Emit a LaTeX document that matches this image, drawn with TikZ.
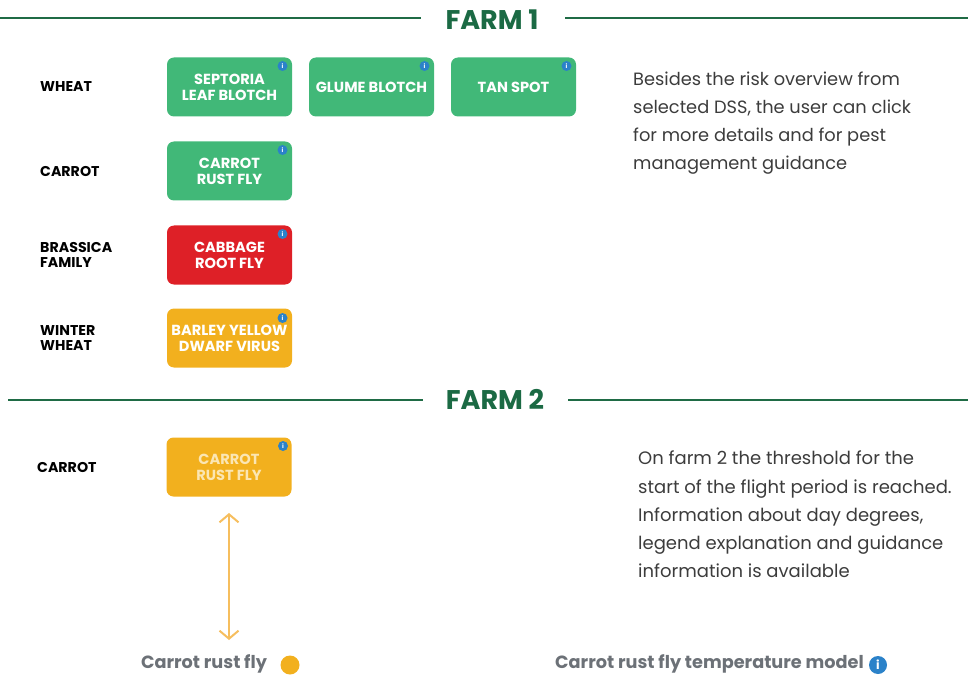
\documentclass[tikz,border=0pt]{standalone}
\usepackage{fontspec}
\setmainfont{Poppins}
\definecolor{rulegreen}{HTML}{1F6B45}
\definecolor{headgreen}{HTML}{1B6A44}
\definecolor{riskgreen}{HTML}{41B878}
\definecolor{riskred}{HTML}{DE2027}
\definecolor{riskamber}{HTML}{F2B01E}
\definecolor{paletext}{HTML}{FBE6B4}
\definecolor{infoblue}{HTML}{2B82C9}
\definecolor{bodygrey}{HTML}{3C3C3C}
\definecolor{labelgrey}{HTML}{6C7177}
\definecolor{arrowamber}{HTML}{F6BE5E}
\usetikzlibrary{arrows.meta}
\tikzset{
  riskbox/.style={rounded corners=7pt,minimum width=125pt,minimum height=59pt,inner sep=0pt,
    text=white,align=center,font=\fontsize{14.6}{15.8}\selectfont\bfseries},
  info/.style={circle,fill=infoblue,minimum size=10pt,inner sep=0pt,text=white,font=\fontsize{6}{6}\selectfont\bfseries},
  croplabel/.style={anchor=west,align=left,inner sep=0pt,text=black,font=\fontsize{14.2}{15.5}\selectfont\bfseries},
  head/.style={text=headgreen,font=\fontsize{27}{30}\selectfont\bfseries,inner sep=0pt},
  rulel/.style={draw=rulegreen,line width=2pt},
  para/.style={anchor=north west,align=left,text=bodygrey,inner sep=0pt},
  modellabel/.style={text=labelgrey,inner sep=0pt,font=\fontsize{17.7}{19}\selectfont\bfseries},
}
\begin{document}
\begin{tikzpicture}[x=1pt,y=-1pt]
\useasboundingbox (0,0) rectangle (968,676);
% headings
\node[head] (farma) at (492,20) {FARM 1};
\node[head] (farmb) at (495,399) {FARM 2};
\coordinate (al) at (0,18); \coordinate (ar) at (968,18);
\coordinate (bl) at (8,400); \coordinate (br) at (968,400);
\coordinate (alend) at (421,18); \coordinate (arstart) at (565,18);
\coordinate (blend) at (423,400); \coordinate (brstart) at (568,400);
\draw[rulel] (al) -- (alend);
\draw[rulel] (arstart) -- (ar);
\draw[rulel] (bl) -- (blend);
\draw[rulel] (brstart) -- (br);
% crop labels
\node[croplabel] (wheat) at (40,87) {WHEAT};
\node[croplabel] (carrot) at (40,171) {CARROT};
\node[croplabel] (brassica) at (40,255) {BRASSICA\\FAMILY};
\node[croplabel] (winter) at (40,338) {WINTER\\WHEAT};
\node[croplabel] (carrotb) at (37,467) {CARROT};
% risk boxes
\node[riskbox,fill=riskgreen] (sept) at (229.5,87) {SEPTORIA\\LEAF BLOTCH};
\node[riskbox,fill=riskgreen] (glume) at (371.5,87) {GLUME BLOTCH};
\node[riskbox,fill=riskgreen] (tan) at (513.5,87) {TAN SPOT};
\node[riskbox,fill=riskgreen] (carr) at (229.5,171) {CARROT\\RUST FLY};
\node[riskbox,fill=riskred] (cabb) at (229.5,255) {CABBAGE\\ROOT FLY};
\node[riskbox,fill=riskamber] (barl) at (229.5,338) {BARLEY YELLOW\\DWARF VIRUS};
\node[riskbox,fill=riskamber,text=paletext] (carrb) at (229,467) {CARROT\\RUST FLY};
% info dots
\foreach \n/\x/\y in {i1/282.5/66,i2/424.5/66,i3/566.5/66,i4/282.5/150,i5/282.5/234,i6/282.5/318,i7/283/446}
  \node[info] (\n) at (\x,\y) {i};
% paragraphs
\node[para,font=\fontsize{17.8}{28}\selectfont] (pa) at (633,72) {Besides the risk overview from\\selected DSS, the user can click\\for more details and for pest\\management guidance};
\node[para,font=\fontsize{18}{28.2}\selectfont] (pb) at (638,451) {On farm 2 the threshold for the\\start of the flight period is reached.\\Information about day degrees,\\legend explanation and guidance\\information is available};
% bottom
\node[modellabel] (rust) at (204,664) {Carrot rust fly};
\node[circle,fill=riskamber,minimum size=19pt,inner sep=0pt] (dot) at (290,665) {};
\node[modellabel] (temp) at (709.5,664) {Carrot rust fly temperature model};
\node[info,minimum size=18pt,font=\fontsize{12}{12}\selectfont\bfseries] (ib) at (878,665) {i};
\coordinate (arrtop) at (229,513); \coordinate (arrbot) at (229,640);
\draw[draw=arrowamber,line width=2pt,{Straight Barb[length=8pt,width=19pt]}-{Straight Barb[length=8pt,width=19pt]}] (arrtop) -- (arrbot);
\end{tikzpicture}
\end{document}
